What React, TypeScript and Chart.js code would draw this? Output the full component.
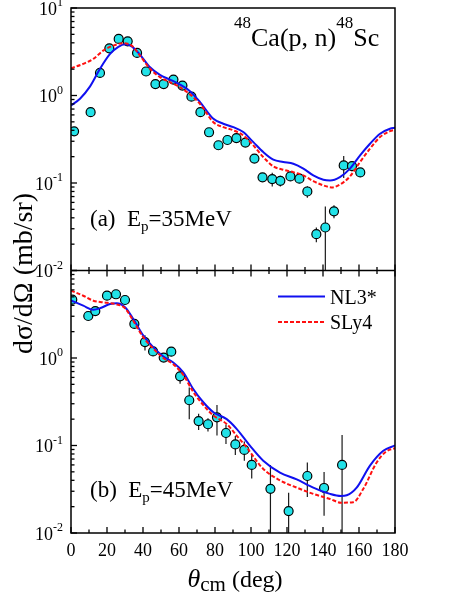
import React, { useEffect, useRef } from "react";
import { Chart, registerables } from "chart.js";

Chart.register(...registerables);

const FONT = '"Liberation Serif", "Times New Roman", Times, serif';

// ---------- panel (a): Ep = 35 MeV ----------
const angleA = [1.7, 10.9, 16.1, 21.3, 26.5, 31.5, 36.7, 41.7, 46.9, 51.5, 56.9, 61.9, 66.9, 71.9, 76.7, 81.9, 86.9, 91.9, 96.9, 101.9, 106.4, 111.8, 116.3, 121.9, 126.9, 131.3, 136.3, 141.3, 146.1, 151.5, 156.1, 160.7];
const sigmaA = [0.39, 0.645, 1.81, 3.46, 4.43, 4.16, 3.07, 1.88, 1.35, 1.35, 1.52, 1.3, 0.97, 0.645, 0.38, 0.27, 0.31, 0.326, 0.29, 0.19, 0.116, 0.111, 0.106, 0.119, 0.112, 0.08, 0.026, 0.031, 0.0475, 0.159, 0.156, 0.132];
const errA = [0, 0, 0, 0, 0, 0, 0, 0, 0, 0, 0, 0, 0, 0, 0, 0, 0, 0, 0, 0, 0, 0.02, 0.015, 0.012, 0.01, 0.012, 0.005, 0.023, 0.008, 0.045, 0.02, 0];

const nl3AngleA = [0, 5, 10.6, 16.1, 21.7, 26.3, 30, 33.7, 38.3, 43.9, 49.4, 55, 60.6, 66.1, 71.7, 79.1, 84.6, 90.2, 95.7, 101.3, 106.8, 112.4, 117.9, 123.5, 129.1, 134.6, 140.2, 143.9, 149.4, 155, 160.6, 166.1, 171.7, 177.2, 180];
const nl3A = [0.77, 0.92, 1.27, 2.02, 2.99, 3.6, 3.85, 3.65, 2.93, 2.1, 1.72, 1.52, 1.33, 1.12, 0.84, 0.542, 0.476, 0.435, 0.382, 0.293, 0.226, 0.185, 0.174, 0.166, 0.146, 0.122, 0.109, 0.107, 0.117, 0.146, 0.207, 0.281, 0.366, 0.417, 0.428];

const sly4AngleA = [0, 6.8, 12.4, 17.9, 23.5, 29, 33.7, 38.3, 43.9, 49.4, 55, 60.6, 66.1, 71.7, 79.1, 84.6, 90.2, 95.7, 101.3, 106.8, 112.4, 117.9, 123.5, 129.1, 134.6, 140.2, 144.8, 149.4, 155, 160.6, 166.1, 171.7, 177.2, 180];
const sly4A = [2.05, 2.3, 2.62, 3.26, 3.72, 3.95, 3.72, 2.86, 2.02, 1.62, 1.42, 1.24, 1.03, 0.8, 0.496, 0.435, 0.4, 0.35, 0.269, 0.198, 0.155, 0.142, 0.133, 0.122, 0.105, 0.094, 0.089, 0.096, 0.119, 0.174, 0.247, 0.335, 0.391, 0.406];

// ---------- panel (b): Ep = 45 MeV ----------
const angleB = [0.7, 9.6, 13.5, 20.0, 25.0, 30.0, 35.2, 41.1, 45.6, 51.5, 55.7, 60.6, 65.7, 70.9, 76.1, 81.1, 86.1, 91.3, 96.3, 100.4, 110.8, 120.9, 131.3, 140.6, 150.6];
const sigmaB = [4.64, 3.02, 3.44, 5.15, 5.35, 4.6, 2.45, 1.52, 1.19, 1.01, 1.18, 0.618, 0.329, 0.19, 0.175, 0.21, 0.139, 0.103, 0.089, 0.06, 0.032, 0.0178, 0.0448, 0.0327, 0.06];
const errB = [0, 0, 0, 0, 0, 0, 0.1, 0.3, 0.05, 0.05, 0.05, 0.11, 0.13, 0.04, 0.03, 0.08, 0.035, 0.025, 0.022, 0.018, 0.028, 0.011, 0.019, 0.017, 0.072];

const nl3AngleB = [0, 6.8, 12.4, 16.1, 21.7, 25.4, 30, 34.6, 40.2, 45.7, 51.3, 56.8, 62.4, 67.9, 73.5, 79.1, 86.5, 92, 99.4, 106.8, 116.1, 125.4, 134.6, 143.9, 150, 153.2, 158.7, 166.1, 173.5, 180];
const nl3B = [4.55, 3.96, 3.56, 3.7, 4.14, 4.22, 3.8, 2.79, 1.8, 1.33, 1.04, 0.89, 0.687, 0.442, 0.312, 0.24, 0.2, 0.155, 0.0995, 0.067, 0.049, 0.041, 0.033, 0.028, 0.0265, 0.027, 0.033, 0.059, 0.087, 0.1];

const sly4AngleB = [0, 6.8, 12.4, 17.9, 24.4, 30, 34.6, 40.2, 45.7, 51.3, 56.8, 62.4, 67.9, 73.5, 79.1, 86.5, 92, 97.6, 106.8, 116.1, 125.4, 134.6, 143.9, 150, 156.8, 162.4, 169.8, 175, 180];
const sly4B = [5.9, 5.15, 4.52, 4.33, 4.14, 3.7, 2.67, 1.72, 1.28, 1.0, 0.85, 0.64, 0.41, 0.29, 0.22, 0.176, 0.13, 0.095, 0.054, 0.04, 0.033, 0.028, 0.0245, 0.0222, 0.0225, 0.032, 0.064, 0.085, 0.093];

// ---------- axis / text ----------
const xMin = 0;
const xMax = 180;
const xMajorStep = 20;
const xMinorStep = 10;
const yMin = 0.01;
const yMax = 10;
const topExps = [1, 0, -1, -2];
const bottomExps = [0, -1, -2];
const legendNames = ["NL3*", "SLy4"];

const BLUE = "#1010f0";
const RED = "#ff1010";
const CYAN = "#22e2e8";

const toXY = (xs: number[], ys: number[]) => xs.map((x, i) => ({ x, y: ys[i] }));

function seg(ctx: CanvasRenderingContext2D, x1: number, y1: number, x2: number, y2: number) {
  ctx.beginPath();
  ctx.moveTo(x1, y1);
  ctx.lineTo(x2, y2);
  ctx.stroke();
}

function drawErrors(chart: any, xs: number[], ys: number[], es: number[], id: string) {
  const ctx = chart.ctx as CanvasRenderingContext2D;
  const sx = chart.scales.x;
  const sy = chart.scales[id];
  const ca = chart.chartArea;
  ctx.save();
  ctx.beginPath();
  ctx.rect(ca.left, sy.top, ca.right - ca.left, sy.bottom - sy.top);
  ctx.clip();
  ctx.strokeStyle = "#1a1a1a";
  ctx.lineWidth = 1.2;
  xs.forEach((x, i) => {
    const e = es[i];
    if (!e) return;
    const lo = Math.max(ys[i] - e, sy.min / 10);
    const hi = ys[i] + e;
    const px = sx.getPixelForValue(x);
    seg(ctx, px, sy.getPixelForValue(lo), px, sy.getPixelForValue(hi));
  });
  ctx.restore();
}

function drawYLabel(ctx: CanvasRenderingContext2D, xr: number, y: number, exp: number) {
  const e = String(exp);
  ctx.font = `18px ${FONT}`;
  const wb = ctx.measureText("10").width;
  ctx.font = `12px ${FONT}`;
  const we = ctx.measureText(e).width;
  const x0 = xr - we - wb;
  ctx.textAlign = "left";
  ctx.textBaseline = "alphabetic";
  ctx.font = `18px ${FONT}`;
  ctx.fillText("10", x0, y + 6.5);
  ctx.font = `12px ${FONT}`;
  ctx.fillText(e, x0 + wb, y - 2);
}

function drawPieces(ctx: CanvasRenderingContext2D, x: number, y: number, pieces: [string, string, number][]) {
  let cx = x;
  ctx.textAlign = "left";
  ctx.textBaseline = "alphabetic";
  for (const [t, f, dy] of pieces) {
    ctx.font = f;
    ctx.fillText(t, cx, y + dy);
    cx += ctx.measureText(t).width;
  }
  return cx;
}

function piecesWidth(ctx: CanvasRenderingContext2D, pieces: [string, string, number][]) {
  let w = 0;
  for (const [t, f] of pieces) {
    ctx.font = f;
    w += ctx.measureText(t).width;
  }
  return w;
}

const overlay = {
  id: "overlay",
  beforeDatasetsDraw(chart: any) {
    drawErrors(chart, angleA, sigmaA, errA, "yTop");
    drawErrors(chart, angleB, sigmaB, errB, "yBot");
  },
  afterDraw(chart: any) {
    const ctx = chart.ctx as CanvasRenderingContext2D;
    const ca = chart.chartArea;
    const sx = chart.scales.x;
    const yT = chart.scales.yTop;
    const yB = chart.scales.yBot;
    ctx.save();
    ctx.strokeStyle = "#000";
    ctx.fillStyle = "#000";
    ctx.lineWidth = 1.3;
    // x ticks (inward)
    for (let v = xMin; v <= xMax; v += xMinorStep) {
      const px = sx.getPixelForValue(v);
      const len = v % xMajorStep === 0 ? 6 : 3.5;
      seg(ctx, px, ca.bottom, px, ca.bottom - len);
      seg(ctx, px, yT.bottom, px, yT.bottom - len);
      seg(ctx, px, yB.top, px, yB.top + len);
    }
    // y ticks (inward)
    [yT, yB].forEach((s: any) => {
      for (let e = -2; e <= 1; e++) {
        const d = Math.pow(10, e);
        const p = s.getPixelForValue(d);
        seg(ctx, ca.left, p, ca.left + 6, p);
        if (e < 1) {
          for (let m = 2; m <= 9; m++) {
            const q = s.getPixelForValue(m * d);
            seg(ctx, ca.left, q, ca.left + 3.5, q);
          }
        }
      }
    });
    // frame
    ctx.lineWidth = 1.5;
    ctx.strokeRect(ca.left, ca.top, ca.right - ca.left, ca.bottom - ca.top);
    seg(ctx, ca.left, yT.bottom, ca.right, yT.bottom);

    // y tick labels
    topExps.forEach((e) => drawYLabel(ctx, ca.left - 8, yT.getPixelForValue(Math.pow(10, e)), e));
    bottomExps.forEach((e) => drawYLabel(ctx, ca.left - 8, yB.getPixelForValue(Math.pow(10, e)), e));

    // reaction title
    drawPieces(ctx, ca.left + 163, ca.top + 38, [
      ["48", `17px ${FONT}`, -18],
      ["Ca(p, n)", `26px ${FONT}`, 0],
      ["48", `17px ${FONT}`, -18],
      ["Sc", `26px ${FONT}`, 0],
    ]);

    // panel labels
    drawPieces(ctx, ca.left + 19, yT.bottom - 45, [
      ["(a)  E", `23px ${FONT}`, 0],
      ["p", `15px ${FONT}`, 5],
      ["=35MeV", `23px ${FONT}`, 0],
    ]);
    drawPieces(ctx, ca.left + 19, yB.bottom - 36, [
      ["(b)  E", `23px ${FONT}`, 0],
      ["p", `15px ${FONT}`, 5],
      ["=45MeV", `23px ${FONT}`, 0],
    ]);

    // legend
    const lx1 = ca.left + 207;
    const lx2 = ca.left + 254;
    const ly1 = yB.top + 26;
    const ly2 = yB.top + 51.5;
    ctx.lineWidth = 2;
    ctx.strokeStyle = BLUE;
    seg(ctx, lx1, ly1, lx2, ly1);
    ctx.strokeStyle = RED;
    ctx.setLineDash([4, 2]);
    seg(ctx, lx1, ly2, lx2, ly2);
    ctx.setLineDash([]);
    ctx.fillStyle = "#000";
    ctx.font = `20px ${FONT}`;
    ctx.textAlign = "left";
    ctx.textBaseline = "alphabetic";
    ctx.fillText(legendNames[0], lx2 + 5, ly1 + 7);
    ctx.fillText(legendNames[1], lx2 + 5, ly2 + 7);

    // x title
    const xt: [string, string, number][] = [
      ["\u03b8", `italic 26px ${FONT}`, 0],
      ["cm", `21px ${FONT}`, 4],
      [" (deg)", `24px ${FONT}`, 0],
    ];
    const wxt = piecesWidth(ctx, xt);
    drawPieces(ctx, (ca.left + ca.right) / 2 - wxt / 2 + 2, ca.bottom + 54, xt);

    // y title
    ctx.save();
    ctx.translate(25, (ca.top + ca.bottom) / 2 + 3);
    ctx.rotate(-Math.PI / 2);
    ctx.font = `28px ${FONT}`;
    ctx.textAlign = "center";
    ctx.textBaseline = "middle";
    ctx.fillText("d\u03c3/d\u03a9 (mb/sr)", 0, 0);
    ctx.restore();

    ctx.restore();
  },
};

export default function App() {
  const ref = useRef<HTMLCanvasElement>(null);
  useEffect(() => {
    if (!ref.current) return;
    const lineDs = (label: string, xs: number[], ys: number[], axis: string, color: string, dash: number[]) => ({
      label,
      data: toXY(xs, ys),
      yAxisID: axis,
      showLine: true,
      borderColor: color,
      backgroundColor: color,
      borderWidth: 2,
      borderDash: dash,
      pointRadius: 0,
      cubicInterpolationMode: "monotone" as const,
    });
    const pointDs = (label: string, xs: number[], ys: number[], axis: string) => ({
      label,
      data: toXY(xs, ys),
      yAxisID: axis,
      showLine: false,
      pointRadius: 4.5,
      pointBorderWidth: 1.2,
      pointBorderColor: "#000",
      pointBackgroundColor: CYAN,
      borderColor: "#000",
      backgroundColor: CYAN,
    });
    const chart = new Chart(ref.current, {
      type: "scatter",
      data: {
        datasets: [
          lineDs("SLy4 a", sly4AngleA, sly4A, "yTop", RED, [4, 2]),
          lineDs("NL3* a", nl3AngleA, nl3A, "yTop", BLUE, []),
          lineDs("SLy4 b", sly4AngleB, sly4B, "yBot", RED, [4, 2]),
          lineDs("NL3* b", nl3AngleB, nl3B, "yBot", BLUE, []),
          pointDs("exp a", angleA, sigmaA, "yTop"),
          pointDs("exp b", angleB, sigmaB, "yBot"),
        ] as any,
      },
      options: {
        responsive: false,
        animation: false,
        layout: { padding: { top: 8, right: 68, bottom: 0, left: 0 } },
        plugins: { legend: { display: false }, tooltip: { enabled: false } },
        scales: {
          x: {
            type: "linear",
            position: "bottom",
            min: xMin,
            max: xMax,
            grid: { display: false, drawTicks: false },
            border: { display: false },
            ticks: { stepSize: xMajorStep, font: { family: FONT, size: 18 }, color: "#000", padding: 7, maxRotation: 0 },
            afterFit: (s: any) => {
              s.height = 66;
            },
          },
          yBot: {
            type: "logarithmic",
            position: "left",
            stack: "panels",
            stackWeight: 1,
            min: yMin,
            max: yMax,
            grid: { display: false, drawTicks: false },
            border: { display: false },
            ticks: { display: false },
            afterFit: (s: any) => {
              s.width = 71;
            },
          },
          yTop: {
            type: "logarithmic",
            position: "left",
            stack: "panels",
            stackWeight: 1,
            min: yMin,
            max: yMax,
            grid: { display: false, drawTicks: false },
            border: { display: false },
            ticks: { display: false },
            afterFit: (s: any) => {
              s.width = 71;
            },
          },
        } as any,
      },
      plugins: [overlay],
    });
    return () => chart.destroy();
  }, []);
  return (
    <div style={{ position: "absolute", left: 0, top: 0, width: 463, height: 599, background: "#fff" }}>
      <canvas ref={ref} width={463} height={599} style={{ display: "block" }} />
    </div>
  );
}
